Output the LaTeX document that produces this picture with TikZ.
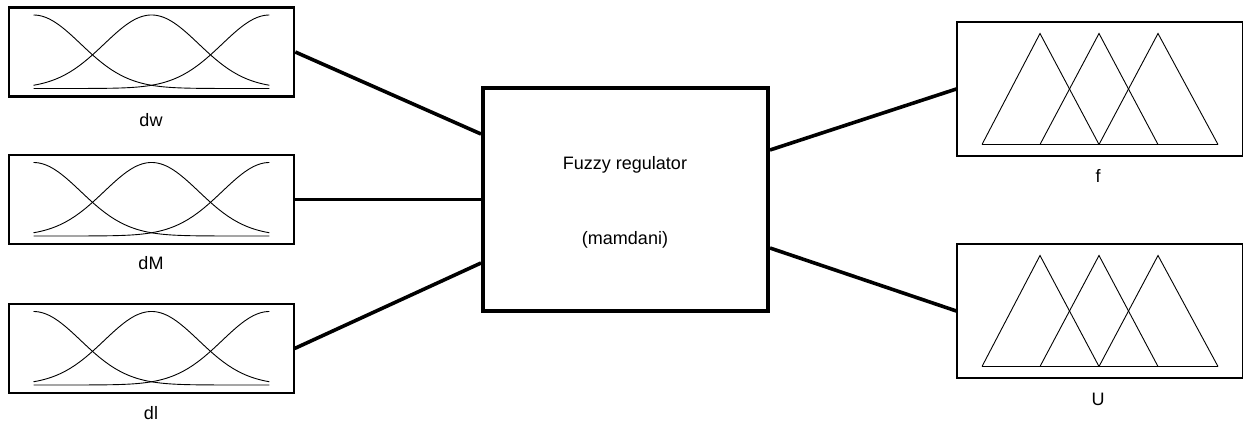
\documentclass[tikz,border=0pt]{standalone}
\usepackage{fontspec}
\setmainfont{Liberation Sans}
\begin{document}
\begin{tikzpicture}[x=1pt,y=-1pt,
  txt/.style={font=\fontsize{18}{20}\selectfont, inner sep=0pt, anchor=base},
  mfbox/.style={draw, line width=1.2pt, minimum width=285pt, minimum height=89pt, inner sep=0pt},
  outbox/.style={draw, line width=1.3pt, minimum width=286pt, minimum height=134pt, inner sep=0pt},
  regbox/.style={draw, line width=4pt, minimum width=285pt, minimum height=223pt, inner sep=0pt},
  wire/.style={line width=3.6pt},
  mf/.style={line width=0.9pt},
  gauss/.pic={
    \draw[mf] plot[domain=0:1, samples=90] ({-118+236*\x}, {36.5-73.5*exp(-((\x)^2)/0.08)});
    \draw[mf] plot[domain=0:1, samples=90] ({-118+236*\x}, {36.5-73.5*exp(-((\x-0.5)^2)/0.08)});
    \draw[mf] plot[domain=0:1, samples=90] ({-118+236*\x}, {36.5-73.5*exp(-((\x-1)^2)/0.08)});
  },
  tri/.style={line width=0.9pt, line join=miter},
  triangles/.pic={
    \draw[tri] (-118,55.5) -- (-60,-55.5) -- (-1,55.5);
    \draw[tri] (-60,55.5) -- (-1,-55.5) -- (58,55.5);
    \draw[tri] (-1,55.5) -- (58,-55.5) -- (118,55.5);
    \draw[tri] (-118,55.5) -- (118,55.5);
  }]
\useasboundingbox (0,0) rectangle (1243,427);

% input variables with Gaussian membership functions
\node[mfbox, line width=2.6pt] (dw) at (151.5,52) {};
\node[mfbox] (dM) at (151.5,199.5) {};
\node[mfbox] (dl) at (151.5,348.5) {};
\pic at (dw.center) {gauss};
\pic at (dM.center) {gauss};
\pic at (dl.center) {gauss};
\node[txt] (ldw) at (151,127) {dw};
\node[txt] (ldM) at (151,270) {dM};
\node[txt] (ldl) at (151,420) {dl};

% inference block
\node[regbox] (reg) at (625.5,199.5) {};
\node[txt] (t1) at (625,170) {Fuzzy regulator};
\node[txt] (t2) at (625,245) {(mamdani)};

% output variables with triangular membership functions
\node[outbox] (f) at (1100,89) {};
\node[outbox] (U) at (1100,311) {};
\pic at (f.center) {triangles};
\pic at (U.center) {triangles};
\node[txt] (lf) at (1098,183) {f};
\node[txt] (lU) at (1098,406) {U};

% connections
\draw[wire] (dw.east) -- ([yshift=65.5pt]reg.west);
\draw[wire] (dM.east) -- (reg.west);
\draw[wire] (dl.east) -- ([yshift=-63.5pt]reg.west);
\draw[wire] ([yshift=49.5pt]reg.east) -- (f.west);
\draw[wire] ([yshift=-48.5pt]reg.east) -- (U.west);
\end{tikzpicture}
\end{document}
